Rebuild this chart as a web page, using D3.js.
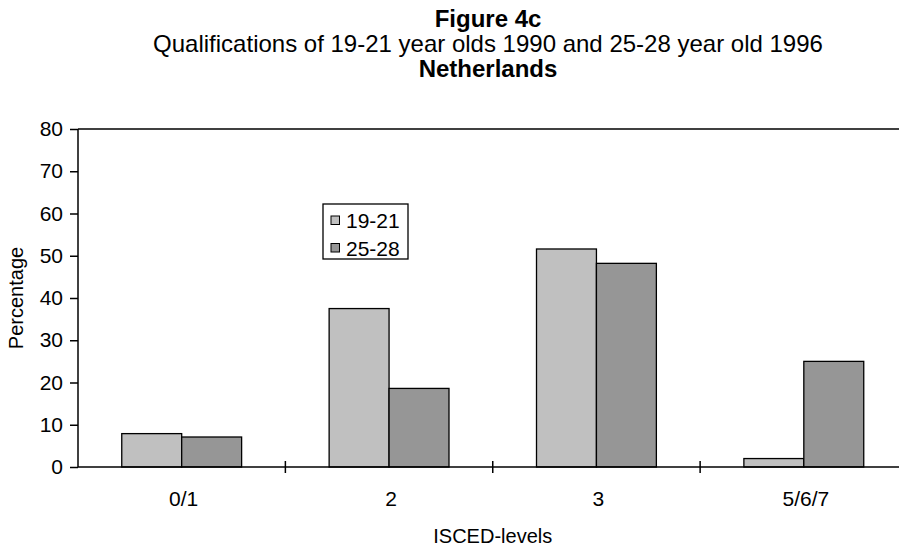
<!DOCTYPE html>
<html>
<head>
<meta charset="utf-8">
<script src="https://cdn.jsdelivr.net/npm/d3@7"></script>
<style>
  html, body { margin: 0; padding: 0; background: #fff; }
  svg { display: block; font-family: "Liberation Sans", Arial, sans-serif; }
</style>
</head>
<body>
<svg id="chart" width="899" height="546"></svg>
<script>
// ISCED qualification levels and shares (%) for the two age cohorts
const categories = ["0/1", "2", "3", "5/6/7"];
const seriesNames = ["19-21", "25-28"];
const values1921 = [7.9, 37.5, 51.6, 2.0];
const values2528 = [7.1, 18.6, 48.2, 25.0];
const yTicks = [0, 10, 20, 30, 40, 50, 60, 70, 80];
const colors = ["#c0c0c0", "#969696"];

const svg = d3.select("#chart");
const W = 899, H = 546;
const plotLeft = 78, plotTop = 129, plotBottom = 467;
const plotRight = 907.5;   // plot area runs past the right edge

const x = d3.scaleBand().domain(categories).range([plotLeft, plotRight]);
const xs = d3.scaleBand().domain(seriesNames).range([0, x.bandwidth()])
  .paddingOuter(0.73).paddingInner(0);
const y = d3.scaleLinear().domain([0, 80]).range([plotBottom, plotTop]);

const tickFont = 21;
const axisTitleFont = 20;
const titleFont = 24;

// titles
const cx = 488;
svg.append("text").attr("x", cx).attr("y", 27).attr("text-anchor", "middle")
  .attr("font-size", titleFont).attr("font-weight", "bold").text("Figure  4c");
svg.append("text").attr("x", cx).attr("y", 52).attr("text-anchor", "middle")
  .attr("font-size", titleFont).text("Qualifications of 19-21 year olds 1990 and 25-28 year old 1996");
svg.append("text").attr("x", cx).attr("y", 77).attr("text-anchor", "middle")
  .attr("font-size", titleFont).attr("font-weight", "bold").text("Netherlands");

// top frame line
svg.append("line").attr("x1", plotLeft).attr("x2", W).attr("y1", plotTop).attr("y2", plotTop)
  .attr("stroke", "#000").attr("stroke-width", 1.5);

// bars
const data = categories.map((c, i) => ({ c, vals: [values1921[i], values2528[i]] }));
const g = svg.append("g");
data.forEach(d => {
  d.vals.forEach((v, j) => {
    g.append("rect")
      .attr("x", x(d.c) + xs(seriesNames[j]))
      .attr("y", y(v))
      .attr("width", xs.bandwidth())
      .attr("height", y(0) - y(v))
      .attr("fill", colors[j])
      .attr("stroke", "#000")
      .attr("stroke-width", 1.3);
  });
});

// y axis
const yAxis = d3.axisLeft(y).tickValues(yTicks).tickSize(8).tickPadding(7);
const ya = svg.append("g").attr("transform", `translate(${plotLeft},0)`).call(yAxis);
ya.select(".domain").attr("stroke-width", 1.5).attr("d", `M0,${plotTop}V${plotBottom}`);
ya.selectAll(".tick line").attr("stroke-width", 1.5);
ya.selectAll(".tick text").attr("font-size", tickFont).attr("fill", "#000")
  .attr("font-family", "Liberation Sans, Arial, sans-serif");

// x axis: ticks sit on category boundaries
const xa = svg.append("g").attr("transform", `translate(0,${plotBottom})`);
xa.append("line").attr("x1", plotLeft).attr("x2", W).attr("stroke", "#000").attr("stroke-width", 1.5);
categories.slice(1).forEach(c => {
  xa.append("line").attr("x1", x(c)).attr("x2", x(c)).attr("y1", -6).attr("y2", 6)
    .attr("stroke", "#000").attr("stroke-width", 1.5);
});
categories.forEach(c => {
  xa.append("text").attr("x", x(c) + x.bandwidth() / 2 + 2).attr("y", 39)
    .attr("text-anchor", "middle").attr("font-size", tickFont).text(c);
});

// axis titles, centred on the plot area
svg.append("text").attr("x", (plotLeft + plotRight) / 2).attr("y", 543).attr("text-anchor", "middle")
  .attr("font-size", axisTitleFont).text("ISCED-levels");
svg.append("text").attr("transform", `translate(23,${(plotTop + plotBottom) / 2}) rotate(-90)`)
  .attr("text-anchor", "middle").attr("font-size", axisTitleFont).text("Percentage");

// legend
const lg = svg.append("g").attr("transform", "translate(323,204)");
lg.append("rect").attr("width", 85).attr("height", 55).attr("fill", "#fff")
  .attr("stroke", "#000").attr("stroke-width", 1.3);
seriesNames.forEach((s, i) => {
  lg.append("rect").attr("x", 8).attr("y", 12 + i * 27.5).attr("width", 8.5).attr("height", 8.5)
    .attr("fill", colors[i]).attr("stroke", "#000").attr("stroke-width", 1);
  lg.append("text").attr("x", 23).attr("y", 24 + i * 27.5).attr("font-size", tickFont).text(s);
});
</script>
</body>
</html>
